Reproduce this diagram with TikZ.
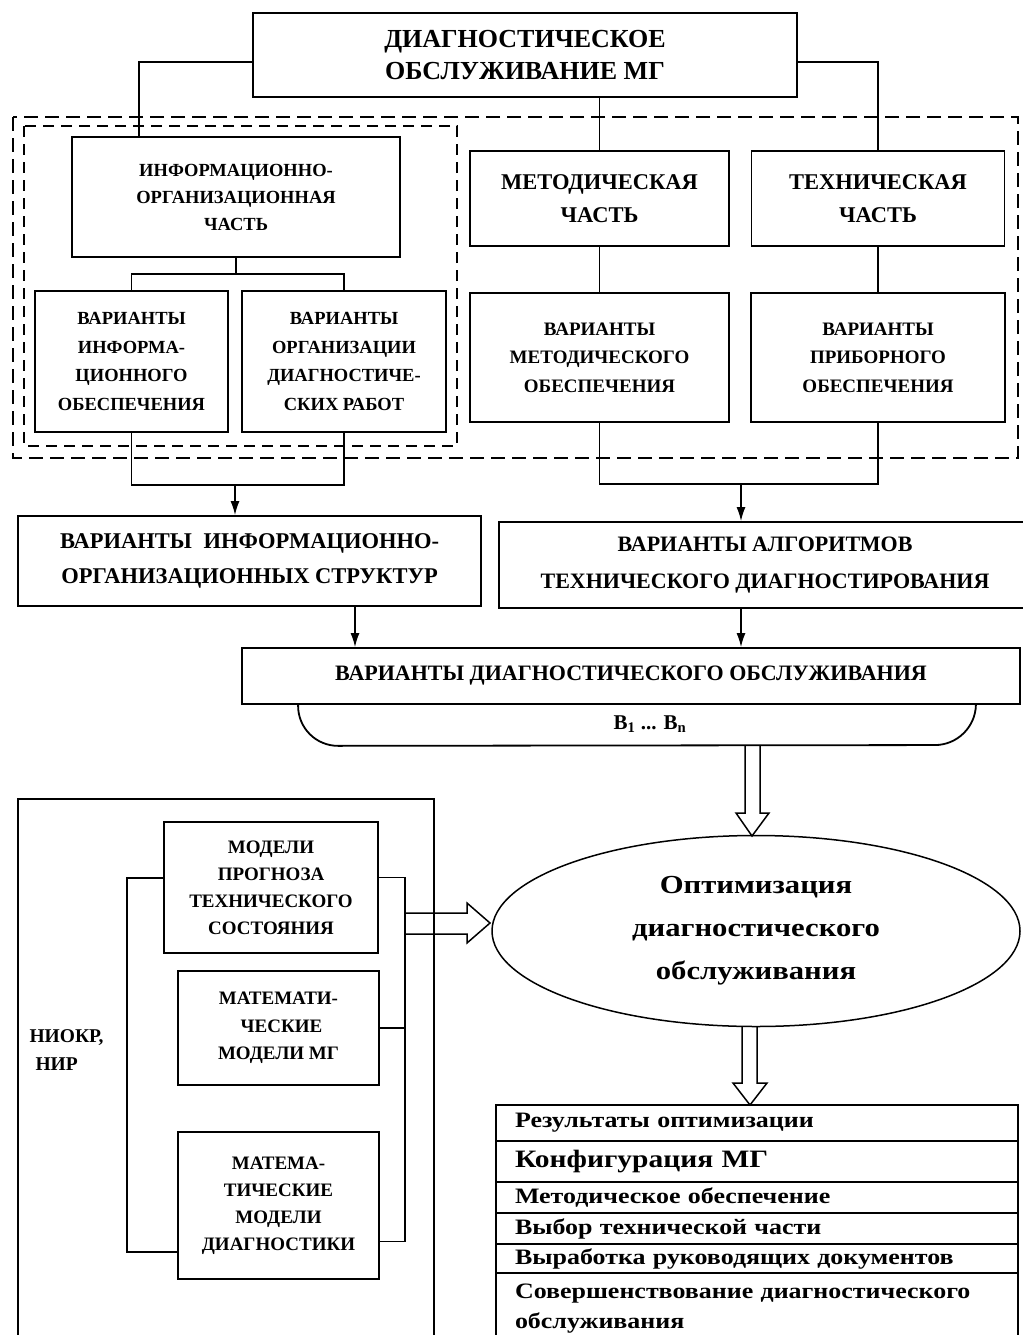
\documentclass[tikz,border=0pt]{standalone}
\usepackage{fontspec}
\setmainfont{Liberation Serif}
\newfontfamily\widefont[FakeStretch=1.18]{Liberation Serif}
\usetikzlibrary{arrows.meta,shapes.geometric,calc}
\begin{document}
\begin{tikzpicture}[x=1pt,y=-1pt,
  box/.style={draw, line width=1.8pt, align=center, inner sep=0pt},
  fnt/.style 2 args={font=\bfseries\fontsize{#1}{#2}\selectfont},
  wfnt/.style 2 args={font=\widefont\bfseries\fontsize{#1}{#2}\selectfont},
  conn/.style={line width=1.5pt},
  arr/.style={line width=1.5pt,-{Latex[length=14pt,width=9pt]}},
  harrow/.style={line width=1.5pt, line join=miter},
  dashbox/.style={line width=2pt, dash pattern=on 14pt off 7pt},
  dashbox2/.style={line width=1.6pt, dash pattern=on 11pt off 7pt},
  tabrow/.style={draw, line width=1.5pt, text width=484pt, inner xsep=19pt, inner ysep=0pt, align=left},
]
\fill[white] (0,0) rectangle (1022,1335);
\useasboundingbox (0,0) rectangle (1022,1335);

% dashed frames
\draw[dashbox] (13,117) rectangle (1018,458);
\draw[dashbox2] (24,126) rectangle (457,446);

% top part
\node[box, line width=2.2pt, minimum width=544pt, minimum height=84pt, fnt={26}{32}] (title) at (525,55) {ДИАГНОСТИЧЕСКОЕ\\ОБСЛУЖИВАНИЕ МГ};
\node[box, minimum width=328pt, minimum height=120pt, fnt={18.5}{27}] (info) at (236,197) {ИНФОРМАЦИОННО-\\ОРГАНИЗАЦИОННАЯ\\ЧАСТЬ};
\node[box, minimum width=193pt, minimum height=141pt, fnt={18.5}{28.5}] (iv1) at (131.5,361.5) {ВАРИАНТЫ\\ИНФОРМА-\\ЦИОННОГО\\ОБЕСПЕЧЕНИЯ};
\node[box, minimum width=204pt, minimum height=141pt, fnt={18.5}{28.5}] (iv2) at (344,361.5) {ВАРИАНТЫ\\ОРГАНИЗАЦИИ\\ДИАГНОСТИЧЕ-\\СКИХ РАБОТ};
\node[box, minimum width=259pt, minimum height=95pt, fnt={22.5}{33}] (meth) at (599.5,198.5) {МЕТОДИЧЕСКАЯ\\ЧАСТЬ};
\node[box, minimum width=253pt, minimum height=95pt, fnt={22.5}{33}] (tech) at (878,198.5) {ТЕХНИЧЕСКАЯ\\ЧАСТЬ};
\node[box, minimum width=259pt, minimum height=129pt, fnt={19}{28.5}] (mv) at (599.5,357.5) {ВАРИАНТЫ\\МЕТОДИЧЕСКОГО\\ОБЕСПЕЧЕНИЯ};
\node[box, minimum width=254pt, minimum height=129pt, fnt={19}{28.5}] (tv) at (878,357.5) {ВАРИАНТЫ\\ПРИБОРНОГО\\ОБЕСПЕЧЕНИЯ};

\node[box, minimum width=463pt, minimum height=90pt, fnt={22.5}{35}] (ios) at (249.5,561) {ВАРИАНТЫ\hspace{6pt} ИНФОРМАЦИОННО-\\ОРГАНИЗАЦИОННЫХ СТРУКТУР};
\node[box, minimum width=532pt, minimum height=86pt, fnt={22}{37}] (alg) at (765,565) {ВАРИАНТЫ АЛГОРИТМОВ\\ТЕХНИЧЕСКОГО ДИАГНОСТИРОВАНИЯ};
\node[box, minimum width=778pt, minimum height=56pt, fnt={22}{30}] (vdo) at (631,676) {ВАРИАНТЫ ДИАГНОСТИЧЕСКОГО ОБСЛУЖИВАНИЯ};

% connectors top
\draw[conn] ([yshift=-7pt]title.west) -| ([xshift=68pt]info.north west);
\draw[conn] ([yshift=-7pt]title.east) -| (tech.north);
\draw[conn] (title.south -| meth.north) -- (meth.north);
\draw[conn] (info.south) -- ++(0,16) coordinate (ij);
\draw[conn] (iv1.north) |- (ij) -| (iv2.north);
\draw[conn] (meth.south) -- (mv.north);
\draw[conn] (tech.south) -- (tv.north);

\coordinate (lj) at (235,485);
\coordinate (rj) at (741,484);
\draw[conn] (iv1.south) |- (lj) -| (iv2.south);
\draw[conn] (mv.south) |- (rj) -| (tv.south);
\draw[arr] (lj) -- (lj |- ios.north);
\draw[arr] (rj) -- (rj |- alg.north);
\draw[arr] ([xshift=105.5pt]ios.south) -- ([xshift=105.5pt]ios.south |- vdo.north);
\draw[arr] (alg.south -| rj) -- (vdo.north -| rj);

% set of variants
\draw[line width=1.8pt, rounded corners=40pt] ([xshift=57pt]vdo.south west) -- ++(0,41) -- (975,745) -- ([xshift=-45pt]vdo.south east);
\node[fnt={21}{24}] (bset) at (650,724) {В\textsubscript{1} ... В\textsubscript{n}};

% optimisation
\node[ellipse, draw, line width=1.5pt, minimum width=528pt, minimum height=191pt, inner sep=0pt, align=center, wfnt={26}{43}] (opt) at (756,931) {Оптимизация\\диагностического\\обслуживания};

\draw[harrow] (745,745) -- (745,813) -- (736,813) -- (752,836) -- (769,813) -- (760,813) -- (760,745);
\draw[harrow] (742,1027) -- (742,1083) -- (733,1083) -- (750,1105) -- (767,1083) -- (757,1083) -- (757,1027);

% results table
\node[tabrow, minimum height=36pt, wfnt={22}{28}] (r1) at (757,1123) {Результаты оптимизации};
\node[tabrow, minimum height=41pt, wfnt={25}{28}] (r2) at (757,1161.5) {Конфигурация МГ};
\node[tabrow, minimum height=31pt, wfnt={22}{28}] (r3) at (757,1197.5) {Методическое обеспечение};
\node[tabrow, minimum height=31pt, wfnt={22}{28}] (r4) at (757,1228.5) {Выбор технической части};
\node[tabrow, minimum height=29pt, wfnt={22}{28}] (r5) at (757,1258.5) {Выработка руководящих документов};
\node[tabrow, minimum height=72pt, wfnt={22}{30}] (r6) at (757,1309) {Совершенствование диагностического\\обслуживания};

% research block
\draw[line width=1.8pt] (18,1345) -- (18,799) -- (434,799) -- (434,1345);
\node[anchor=west, align=left, fnt={19.5}{28}] (niokr) at (26,1050) {НИОКР,\\\hspace{6pt}НИР};
\node[box, minimum width=214pt, minimum height=131pt, fnt={19}{27}] (m1) at (271,887.5) {МОДЕЛИ\\ПРОГНОЗА\\ТЕХНИЧЕСКОГО\\СОСТОЯНИЯ};
\node[box, minimum width=201pt, minimum height=114pt, fnt={19}{27.5}] (m2) at (278.5,1028) {МАТЕМАТИ-\\\hspace{6pt}ЧЕСКИЕ\\МОДЕЛИ МГ};
\node[box, minimum width=201pt, minimum height=147pt, fnt={19}{27}] (m3) at (278.5,1205.5) {МАТЕМА-\\ТИЧЕСКИЕ\\МОДЕЛИ\\ДИАГНОСТИКИ};

\draw[conn] ([yshift=9.5pt]m1.west) -- ++(-36,0) |- ([yshift=-46.5pt]m3.west);
\draw[conn] ([yshift=10pt]m1.east) -- ++(26,0) coordinate (rb) |- ([yshift=-36pt]m3.east);
\draw[conn] (m2.east) -- (m2.east -| rb);

\draw[harrow] (404,913) -- (467,913) -- (467,903) -- (490,923) -- (467,943) -- (467,934) -- (404,934);
\end{tikzpicture}
\end{document}
